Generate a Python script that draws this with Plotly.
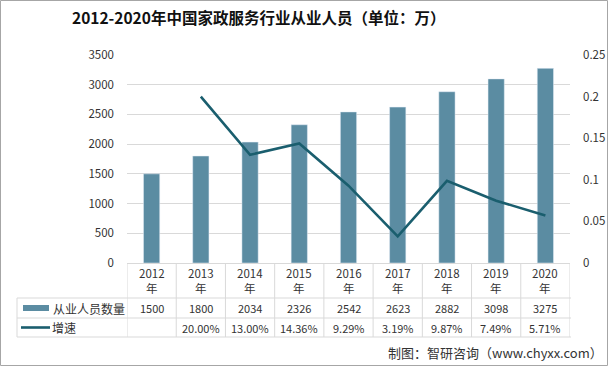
import plotly.graph_objects as go

years = ["2012", "2013", "2014", "2015", "2016", "2017", "2018", "2019", "2020"]
workers = [1500, 1800, 2034, 2326, 2542, 2623, 2882, 3098, 3275]
growth = [None, 0.2000, 0.1300, 0.1436, 0.0929, 0.0319, 0.0987, 0.0749, 0.0571]
growth_labels = ["", "20.00%", "13.00%", "14.36%", "9.29%", "3.19%", "9.87%", "7.49%", "5.71%"]
left_ticks = [0, 500, 1000, 1500, 2000, 2500, 3000, 3500]
right_ticks = [0, 0.05, 0.1, 0.15, 0.2, 0.25]
right_tick_text = ["0", "0.05", "0.1", "0.15", "0.2", "0.25"]

BAR = "#5B8CA2"
LINE = "#1A5E6E"
GRID = "#D9D9D9"
TXT = "#333333"
FONT = "Noto Sans CJK SC"

W, H = 608, 366
L, R, T, B = 127, 570, 55, 263


def py(p):
    return (B - p) / (B - T)


def px(p):
    return (p - L) / (R - L)


fig = go.Figure()
fig.add_trace(go.Bar(x=years, y=workers, marker_color=BAR, name="从业人员数量",
                     showlegend=False))
fig.add_trace(go.Scatter(x=years, y=growth, yaxis="y2", mode="lines",
                         line=dict(color=LINE, width=2.6), name="增速",
                         showlegend=False, connectgaps=False))

shapes = []
for yy in [298, 318, 337]:
    shapes.append(dict(type="line", xref="paper", yref="paper",
                       x0=px(17), x1=px(571), y0=py(yy), y1=py(yy),
                       line=dict(color=GRID, width=1)))
shapes.append(dict(type="line", xref="paper", yref="paper",
                   x0=px(17), x1=px(17), y0=py(298), y1=py(337),
                   line=dict(color=GRID, width=1)))
for i in range(len(years) + 1):
    shapes.append(dict(type="line", xref="x", yref="paper",
                       x0=i - 0.5, x1=i - 0.5, y0=py(B), y1=py(337),
                       line=dict(color=GRID, width=1)))
shapes.append(dict(type="rect", xref="paper", yref="paper",
                   x0=px(23), x1=px(49), y0=py(311), y1=py(305),
                   line=dict(width=0), fillcolor=BAR))
shapes.append(dict(type="line", xref="paper", yref="paper",
                   x0=px(21), x1=px(50), y0=py(327.5), y1=py(327.5),
                   line=dict(color=LINE, width=2.6)))
shapes.append(dict(type="rect", xref="paper", yref="paper",
                   x0=px(0.5), x1=px(W - 0.5), y0=py(0.5), y1=py(H - 0.5),
                   line=dict(color="#A6A6A6", width=1)))

cell_font = dict(size=11, color=TXT, family=FONT)
ann = []
for i, yr in enumerate(years):
    ann.append(dict(x=i, xref="x", y=py(280), yref="paper", text=yr + "<br>年",
                    xanchor="center", yanchor="middle",
                    showarrow=False, font=dict(size=11.5, color=TXT, family=FONT),
                    align="center"))
    ann.append(dict(x=i, xref="x", y=py(308), yref="paper", text=str(workers[i]),
                    xanchor="center", yanchor="middle",
                    showarrow=False, font=cell_font))
    if growth_labels[i]:
        ann.append(dict(x=i, xref="x", y=py(327.5), yref="paper", text=growth_labels[i],
                        xanchor="center", yanchor="middle",
                        showarrow=False, font=cell_font))
ann.append(dict(x=px(51), xref="paper", y=py(308), yref="paper", text="从业人员数量",
                xanchor="left", yanchor="middle", showarrow=False,
                font=dict(size=12, color=TXT, family=FONT)))
ann.append(dict(x=px(50), xref="paper", y=py(327.5), yref="paper", text="增速",
                xanchor="left", yanchor="middle", showarrow=False,
                font=dict(size=12, color=TXT, family=FONT)))
ann.append(dict(x=px(258), xref="paper", y=py(17), yref="paper",
                text="<b>2012-2020年中国家政服务行业从业人员（单位：万）</b>",
                xanchor="center", yanchor="middle",
                showarrow=False, font=dict(size=15.5, color="#111111", family=FONT)))
ann.append(dict(x=px(605), xref="paper", y=py(352), yref="paper",
                text="制图：智研咨询（www.chyxx.com）", xanchor="right", yanchor="middle",
                showarrow=False, font=dict(size=13, color=TXT, family=FONT)))

fig.update_layout(
    width=W, height=H,
    margin=dict(l=L, r=W - R, t=T, b=H - B, pad=0, autoexpand=False),
    paper_bgcolor="white", plot_bgcolor="white",
    bargap=0.67,
    font=dict(family=FONT, size=11, color=TXT),
    xaxis=dict(type="category", range=[-0.5, 8.5], showticklabels=False,
               showline=True, linecolor=GRID, showgrid=False, ticks=""),
    yaxis=dict(range=[0, 3500], tickvals=left_ticks, showgrid=True,
               gridcolor=GRID, zeroline=False, showline=False, automargin=False,
               ticklabelstandoff=12, tickfont=dict(size=11.5, color=TXT)),
    yaxis2=dict(range=[0, 0.25], tickvals=right_ticks, ticktext=right_tick_text,
                overlaying="y", side="right", showgrid=False, zeroline=False,
                showline=False, automargin=False, ticklabelstandoff=12,
                tickfont=dict(size=11.5, color=TXT)),
    shapes=shapes, annotations=ann,
)

fig.write_html("out.html", config={"displayModeBar": False},
               post_script="document.body.style.margin='0';document.body.style.overflow='hidden';")
